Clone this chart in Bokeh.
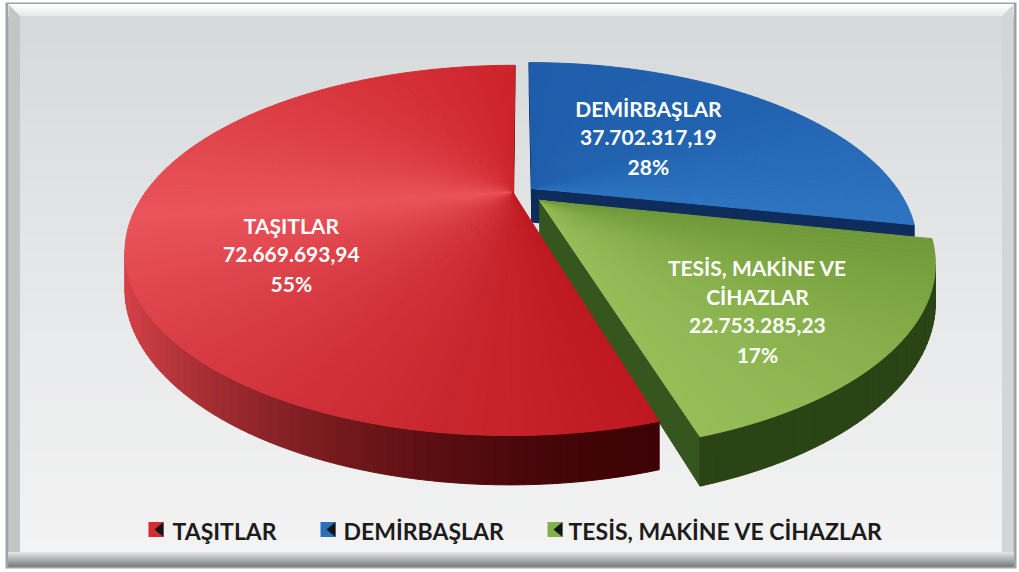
import numpy as np
from bokeh.plotting import figure
from bokeh.models import Range1d
from bokeh.embed import file_html
from bokeh.resources import INLINE
from bokeh.core.properties import value

# ---------------- data ----------------
categories = ["TAŞITLAR", "DEMİRBAŞLAR", "TESİS, MAKİNE VE CİHAZLAR"]
label_names = [["TAŞITLAR"], ["DEMİRBAŞLAR"], ["TESİS, MAKİNE VE", "CİHAZLAR"]]
amounts = [72669693.94, 37702317.19, 22753285.23]
amount_texts = ["72.669.693,94", "37.702.317,19", "22.753.285,23"]
percent_texts = ["55%", "28%", "17%"]

# ---------------- style ----------------
top_stops = [["#cd232b", "#ea545b", "#be1820"],
             ["#2e74c0", "#2162af", "#1e5dab"],
             ["#96bd58", "#86af4b", "#70993a"]]
side_dark = ["#3c0205", "#0b2a55", "#2a4415"]
side_light = ["#d8434a", "#1d5aa5", "#5b8232"]
wall_cols = ["#5a0a0e", "#0e2d5c", "#36561f"]
legend_cols = ["#d42a32", "#2b6fbd", "#86b04a"]
EXPLODE = [0.02, 0.04, 0.07]
FONT = "Lato"

W, H = 1017, 570

p = figure(width=W, height=H, x_range=Range1d(0, W), y_range=Range1d(H, 0),
           output_backend="svg", toolbar_location=None, min_border=0,
           x_axis_location=None, y_axis_location=None)
p.grid.visible = False
p.outline_line_color = None
p.background_fill_color = "white"
p.border_fill_color = "white"


def hexrgb(c):
    return [int(c[i:i + 2], 16) for i in (1, 3, 5)]


def lerp(c1, c2, f):
    a, b = hexrgb(c1), hexrgb(c2)
    f = min(max(f, 0.0), 1.0)
    return "#%02x%02x%02x" % tuple(int(round(a[k] + (b[k] - a[k]) * f)) for k in range(3))


def stops(cols, f):
    if f <= 0.5:
        return lerp(cols[0], cols[1], f / 0.5)
    return lerp(cols[1], cols[2], (f - 0.5) / 0.5)


def vgrad(x0, x1, y0, y1, c0, c1, n):
    ys = np.linspace(y0, y1, n + 1)
    cols = [lerp(c0, c1, (i + 0.5) / n) for i in range(n)]
    p.quad(left=x0, right=x1, top=ys[:-1], bottom=ys[1:], fill_color=cols,
           line_color=cols, line_width=1)


# ---------------- frame / background ----------------
p.quad(left=5, right=1016, top=2, bottom=568, fill_color="#9fa2a5", line_color=None)
p.quad(left=8, right=1013, top=4, bottom=565, fill_color="#cfd1d3", line_color=None)
vgrad(8, 1013, 4, 16, "#ffffff", "#e8e9ea", 10)
p.patch([8, 20, 20, 8], [4, 16, 553, 565], fill_color="#c3c5c7", line_color=None)
p.patch([1013, 1001, 1001, 1013], [4, 16, 553, 565], fill_color="#d3d5d6", line_color=None)
vgrad(20, 1001, 16, 300, "#d6d9da", "#e7e8e9", 40)
vgrad(20, 1001, 300, 552, "#e7e8e9", "#f3f3f3", 40)
vgrad(8, 1013, 552, 566, "#e6e6e6", "#7d8083", 14)

# ---------------- pie geometry ----------------
CX, CY = 520.0, 192.0
SX, SY, K, DEPTH = 368.0, 167.0, 0.31, 34.0
ROT = 0.0
N_ARC = 120


def proj(X, Y, z):
    w = 1 + K * Y
    return CX + SX * X / w, CY - SY * Y / w + DEPTH * z / w


total = float(sum(amounts))
fr = [a / total for a in amounts]
order = [1, 2, 0]  # clockwise from 12 o'clock
angles = {}
cur = np.pi / 2 + ROT
for i in order:
    span = 2 * np.pi * fr[i]
    angles[i] = (cur - span, cur)
    cur -= span

faces = []


def add_face(P, color):
    xs, ys = [], []
    for (X, Y, z) in P:
        sx, sy = proj(X, Y, z)
        xs.append(sx)
        ys.append(sy)
    area = 0.0
    for k in range(len(xs)):
        k2 = (k + 1) % len(xs)
        area += xs[k] * ys[k2] - xs[k2] * ys[k]
    if area > 0:
        depth = np.mean([q[1] for q in P])
        faces.append((depth, xs, ys, color))


def side_shade(t):
    d = (np.degrees(t) - 195.0 + 180.0) % 360.0 - 180.0
    d = np.clip(d * 1.9, -180, 180)
    return 0.5 + 0.5 * np.cos(np.radians(d))


top_xs, top_ys, top_cols = [], [], []
for i in range(3):
    a0, a1 = angles[i]
    m = (a0 + a1) / 2
    ox, oy = EXPLODE[i] * np.cos(m), EXPLODE[i] * np.sin(m)
    n = max(10, int(N_ARC * (a1 - a0) / np.pi))
    ts = np.linspace(a0, a1, n + 1)
    Xa, Ya = ox + np.cos(ts), oy + np.sin(ts)
    cx0, cy0 = proj(ox, oy, 0)
    for j in range(n):
        P = [(Xa[j], Ya[j], 0), (Xa[j + 1], Ya[j + 1], 0),
             (Xa[j + 1], Ya[j + 1], 1), (Xa[j], Ya[j], 1)]
        tm = 0.5 * (ts[j] + ts[j + 1])
        add_face(P, lerp(side_dark[i], side_light[i], side_shade(tm)))
        x1, y1 = proj(Xa[j], Ya[j], 0)
        x2, y2 = proj(Xa[j + 1], Ya[j + 1], 0)
        top_xs.append([cx0, x1, x2])
        top_ys.append([cy0, y1, y2])
        top_cols.append(stops(top_stops[i], (j + 0.5) / n))
    c0, s0, c1, s1 = np.cos(a0), np.sin(a0), np.cos(a1), np.sin(a1)
    add_face([(ox, oy, 0), (ox + c0, oy + s0, 0), (ox + c0, oy + s0, 1), (ox, oy, 1)], wall_cols[i])
    add_face([(ox + c1, oy + s1, 0), (ox, oy, 0), (ox, oy, 1), (ox + c1, oy + s1, 1)], wall_cols[i])

faces.sort(key=lambda f: -f[0])
p.patches([f[1] for f in faces], [f[2] for f in faces],
          fill_color=[f[3] for f in faces], line_color=[f[3] for f in faces], line_width=1)
p.patches(top_xs, top_ys, fill_color=top_cols, line_color=top_cols, line_width=1)

# ---------------- data labels ----------------
LABEL_R = [0.592, 0.45, 0.67]
LABEL_DY = [47, -8, 19.6]
LINE_H = 29
lx, ly, lt = [], [], []
for i in range(3):
    a0, a1 = angles[i]
    m = (a0 + a1) / 2
    X = (EXPLODE[i] + LABEL_R[i]) * np.cos(m)
    Y = (EXPLODE[i] + LABEL_R[i]) * np.sin(m)
    ax, ay = proj(X, Y, 0)
    ay += LABEL_DY[i]
    lines = label_names[i] + [amount_texts[i], percent_texts[i]]
    nl = len(lines)
    for k, s in enumerate(lines):
        lx.append(ax)
        ly.append(ay + (k - (nl - 1) / 2) * LINE_H)
        lt.append(s)
p.text(x=lx, y=ly, text=lt, text_color="white", text_font=value(FONT),
       text_font_style="bold", text_font_size="21px", text_align="center",
       text_baseline="middle")

# ---------------- legend ----------------
LEG_MX = [148, 320, 547]
LEG_TX = [172, 343, 568]
LEG_Y = 530
MS = 15
for i in range(3):
    x = LEG_MX[i]
    p.quad(left=x, right=x + MS, top=LEG_Y - 1 - MS / 2, bottom=LEG_Y - 1 + MS / 2,
           fill_color=legend_cols[i], line_color=None)
    p.patch([x + MS, x + MS, x + 6], [LEG_Y - 1 - MS / 2, LEG_Y - 1 + MS / 2, LEG_Y - 1],
            fill_color="#141414", line_color=None)
p.text(x=LEG_TX, y=[LEG_Y] * 3, text=categories, text_color="#1c1c1c",
       text_font=value(FONT), text_font_style="bold", text_font_size="23px",
       text_align="left", text_baseline="middle")

open("out.html", "w").write(file_html(p, INLINE))
